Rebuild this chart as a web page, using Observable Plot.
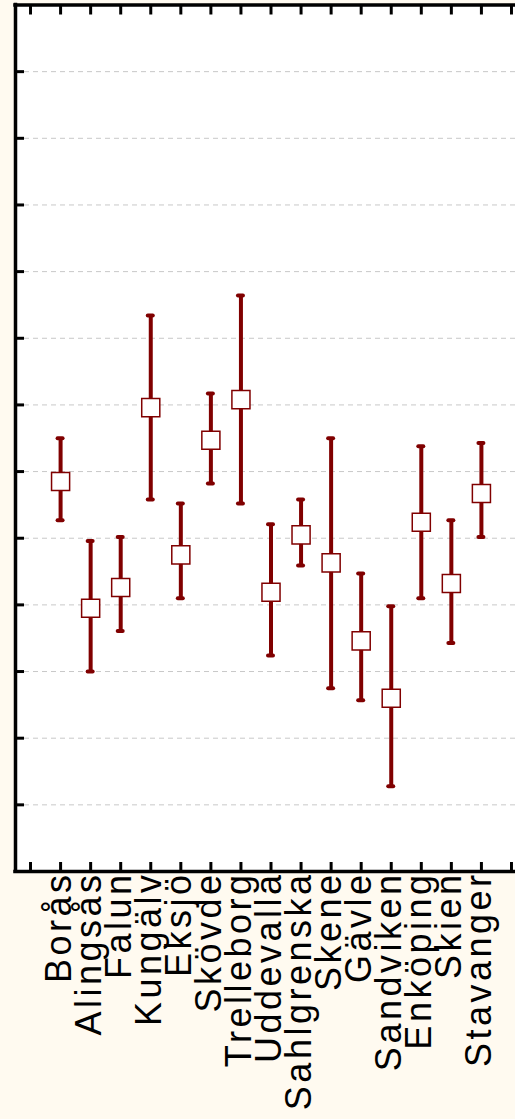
<!DOCTYPE html>
<html><head><meta charset="utf-8">
<script src="https://cdn.jsdelivr.net/npm/d3@7"></script>
<script src="https://cdn.jsdelivr.net/npm/@observablehq/plot@0.6"></script>
<style>
html,body{margin:0;padding:0;background:#fffaf0;}
#chart{width:515px;height:1119px;overflow:hidden;}
g[aria-label="text"] text{letter-spacing:3.5px;}
</style></head><body><div id="chart"></div>
<script>
const cities = ["Borås","Alingsås","Falun","Kungälv","Eksjö","Skövde","Trelleborg","Uddevalla","Sahlgrenska","Skene","Gävle","Sandviken","Enköping","Skien","Stavanger"];
const means = [5.85,3.95,4.26,6.96,4.75,6.47,7.08,4.19,5.05,4.63,3.46,2.60,5.24,4.32,5.67];
const upper = [6.50,4.96,5.02,8.34,5.52,7.17,8.64,5.21,5.58,6.50,4.47,3.98,6.38,5.27,6.43];
const lower = [5.27,3.00,3.61,5.58,4.10,5.82,5.52,3.24,4.59,2.75,2.57,1.28,4.10,3.43,5.02];
const xTicks = d3.range(0, 17);
const yTicks = d3.range(1, 13);

const data = cities.map((c, i) => ({city: c, pos: i + 1, mean: means[i], lo: lower[i], hi: upper[i]}));
const red = "#800000";
const font = "'Liberation Sans', Arial, sans-serif";

const plot = Plot.plot({
  width: 515, height: 1119,
  marginLeft: 15, marginRight: 0, marginTop: 4.5, marginBottom: 248,
  style: {background: "transparent", overflow: "hidden", fontFamily: font},
  x: {type: "linear", domain: [-0.5, 16.5], range: [15, 526], axis: null, label: null},
  y: {domain: [0, 13], range: [871, 4.5], axis: null, label: null},
  marks: [
    Plot.frame({fill: "white", stroke: null}),
    Plot.gridY(yTicks, {stroke: "#c8c8c8", strokeOpacity: 1, strokeDasharray: "5,4", strokeWidth: 1}),
    Plot.ruleX(data, {x: "pos", y1: "lo", y2: "hi", stroke: red, strokeWidth: 4}),
    Plot.ruleY(data, {y: "hi", x1: "pos", x2: "pos", insetLeft: -2.5, insetRight: -2.5, stroke: red, strokeWidth: 4, strokeLinecap: "round"}),
    Plot.ruleY(data, {y: "lo", x1: "pos", x2: "pos", insetLeft: -2.5, insetRight: -2.5, stroke: red, strokeWidth: 4, strokeLinecap: "round"}),
    Plot.dot(data, {x: "pos", y: "mean", symbol: "square", r: 10.2, fill: "white", stroke: red, strokeWidth: 1.5}),
    Plot.axisX(xTicks, {anchor: "bottom", tickSize: -9, strokeWidth: 3, tickFormat: () => "", label: null}),
    Plot.axisX(xTicks, {anchor: "top", tickSize: -9, strokeWidth: 3, tickFormat: () => "", label: null}),
    Plot.axisY(yTicks, {anchor: "left", tickSize: -9, strokeWidth: 3, tickFormat: () => "", label: null}),
    Plot.ruleX([-0.5], {stroke: "black", strokeWidth: 3.5, strokeLinecap: "square"}),
    Plot.ruleY([0, 13], {stroke: "black", strokeWidth: 3.5, strokeLinecap: "square"}),
    Plot.text(data, {x: "pos", frameAnchor: "bottom", text: "city", rotate: -90, textAnchor: "end",
      fontSize: 36, fontFamily: font, fill: "black", dx: 10, dy: 0})
  ]
});
document.getElementById("chart").appendChild(plot);
</script>
</body></html>
